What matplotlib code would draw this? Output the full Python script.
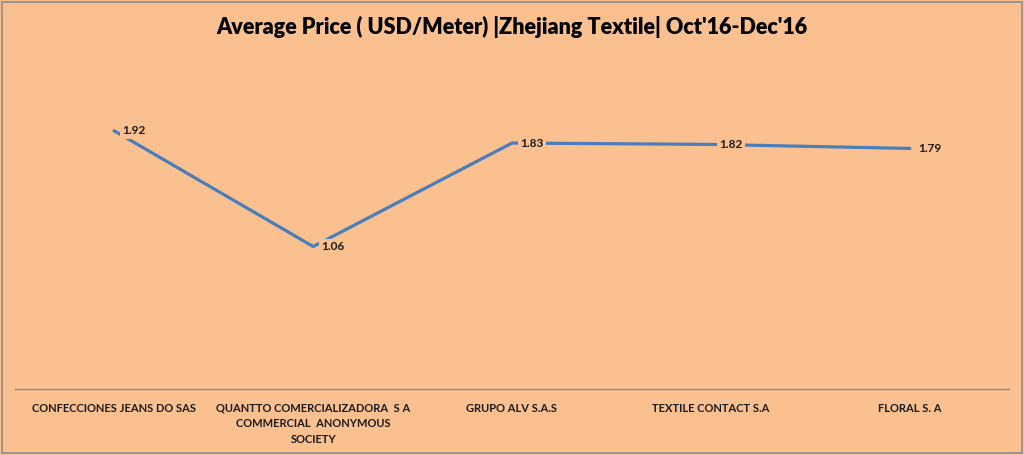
import matplotlib
matplotlib.use("Agg")
import matplotlib.pyplot as plt
from matplotlib.patches import Rectangle

buyers = [
    "CONFECCIONES JEANS DO SAS",
    "QUANTTO COMERCIALIZADORA  S A\nCOMMERCIAL  ANONYMOUS\nSOCIETY",
    "GRUPO ALV S.A.S",
    "TEXTILE CONTACT S.A",
    "FLORAL S. A",
]
avg_price = [1.92, 1.06, 1.83, 1.82, 1.79]

bg = "#FAC090"
plt.rcParams['font.family'] = ['Lato', 'DejaVu Sans']

fig = plt.figure(figsize=(10.24, 4.55), dpi=100)
fig.patch.set_facecolor(bg)
fig.patches.append(Rectangle((0.002, 0.004), 0.996, 0.992, transform=fig.transFigure,
                             fill=False, edgecolor="#8C8C8C", linewidth=1.2))

ax = fig.add_axes([15 / 1024, 1 - 389 / 455, 994 / 1024, 336 / 455])
ax.set_facecolor(bg)
x = range(len(buyers))
ax.plot(x, avg_price, color="#4A7EBB", linewidth=2.3)

for i, v in zip(x, avg_price):
    ax.annotate(f"{v:.2f}", (i, v), xytext=(6, 0), textcoords="offset points",
                ha="left", va="center", fontsize=8.5, fontweight="bold", color="#1a1a1a",
                bbox=dict(boxstyle="square,pad=0.2", facecolor=bg, edgecolor="none"))

ax.set_xlim(-0.5, len(buyers) - 0.5)
ax.set_ylim(0, 2.5)
ax.set_yticks([])
ax.set_xticks(list(x))
ax.set_xticklabels(buyers, fontsize=8, fontweight="bold", color="#1a1a1a", linespacing=1.5)
ax.tick_params(axis="x", length=0, pad=10)
for side in ["top", "left", "right"]:
    ax.spines[side].set_visible(False)
ax.spines["bottom"].set_color("#8C8C8C")
ax.spines["bottom"].set_linewidth(1)

fig.suptitle("Average Price ( USD/Meter) |Zhejiang Textile| Oct'16-Dec'16",
             y=0.965, fontsize=15.5, fontweight="heavy", color="black")

fig.savefig("out.png", dpi=100, facecolor=bg)
